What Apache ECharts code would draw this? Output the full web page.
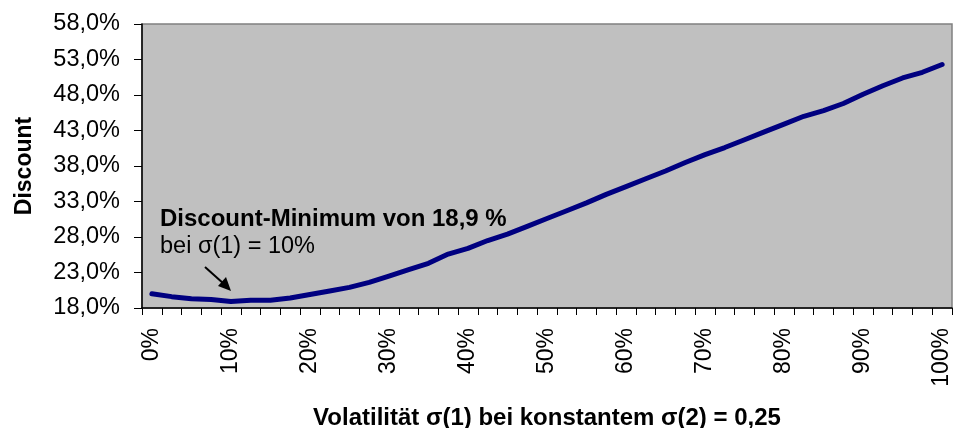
<!DOCTYPE html>
<html>
<head>
<meta charset="utf-8">
<script src="https://cdn.jsdelivr.net/npm/echarts@6/dist/echarts.min.js"></script>
<style>
  html, body { margin: 0; padding: 0; background: #fff; }
  #chart { width: 954px; height: 428px; }
</style>
</head>
<body>
<div id="chart"></div>
<script>
// volatility sigma(1) in 2.5% steps
let categories = [
    "0%", "2,5%", "5%", "7,5%", "10%", "12,5%", "15%", "17,5%", "20%", "22,5%",
    "25%", "27,5%", "30%", "32,5%", "35%", "37,5%", "40%", "42,5%", "45%", "47,5%",
    "50%", "52,5%", "55%", "57,5%", "60%", "62,5%", "65%", "67,5%", "70%", "72,5%",
    "75%", "77,5%", "80%", "82,5%", "85%", "87,5%", "90%", "92,5%", "95%", "97,5%", "100%"
];
// discount in %
let discount = [
    20.0, 19.6, 19.3, 19.2, 18.9, 19.1, 19.1, 19.4, 19.9, 20.4,
    20.9, 21.6, 22.5, 23.4, 24.3, 25.6, 26.4, 27.5, 28.4, 29.5,
    30.6, 31.7, 32.8, 34.0, 35.1, 36.2, 37.3, 38.5, 39.6, 40.6,
    41.7, 42.8, 43.9, 45.0, 45.8, 46.8, 48.1, 49.3, 50.4, 51.2, 52.3
];
let yTicks = { min: 18, max: 58, step: 5 };

let font = "'Liberation Sans', Arial, sans-serif";

function pct(value) {
    return value.toFixed(1).replace(".", ",") + "%";
}

let chart = echarts.init(document.getElementById("chart"), null, { renderer: "canvas" });
let option = {
    animation: false,
    backgroundColor: "#ffffff",
    grid: {
        left: 142,
        top: 24,
        right: 2,
        bottom: 120,
        outerBoundsMode: "none",
        containLabel: false,
        show: true,
        backgroundColor: "#c0c0c0",
        borderColor: "#808080",
        borderWidth: 1.5
    },
    xAxis: {
        type: "category",
        data: categories,
        boundaryGap: true,
        name: "Volatilität σ(1) bei konstantem σ(2) = 0,25",
        nameLocation: "middle",
        nameGap: 98,
        nameTextStyle: {
            fontFamily: font,
            fontSize: 24,
            fontWeight: "bold",
            color: "#000",
            verticalAlign: "top"
        },
        axisLine: { lineStyle: { color: "#000", width: 1.5 } },
        axisTick: { show: true, interval: 0, length: 7, lineStyle: { color: "#000" } },
        axisLabel: {
            interval: 3,
            rotate: 90,
            margin: 20,
            fontFamily: font,
            fontSize: 23,
            color: "#000"
        },
        splitLine: { show: false }
    },
    yAxis: {
        type: "value",
        min: yTicks.min,
        max: yTicks.max,
        interval: yTicks.step,
        name: "Discount",
        nameLocation: "middle",
        nameRotate: 90,
        nameGap: 106,
        nameTextStyle: {
            fontFamily: font,
            fontSize: 23,
            fontWeight: "bold",
            color: "#000"
        },
        axisLine: { show: true, lineStyle: { color: "#000", width: 1.5 } },
        axisTick: { show: true, length: 8, lineStyle: { color: "#000" } },
        axisLabel: {
            margin: 22,
            fontFamily: font,
            fontSize: 23.5,
            color: "#000",
            formatter: pct
        },
        splitLine: { show: false }
    },
    series: [
        {
            name: "Discount",
            type: "line",
            data: discount,
            symbol: "none",
            smooth: false,
            lineStyle: { color: "#000080", width: 5, cap: "round", join: "round" }
        }
    ],
    graphic: [
        {
            type: "text",
            left: 160,
            top: 207,
            style: {
                text: "Discount-Minimum von 18,9 %",
                font: "bold 24px " + font,
                fill: "#000"
            }
        },
        {
            type: "text",
            left: 160,
            top: 235,
            style: {
                text: "bei σ(1) = 10%",
                font: "23.5px " + font,
                fill: "#000"
            }
        },
        {
            type: "line",
            shape: { x1: 205, y1: 267, x2: 224, y2: 284 },
            style: { stroke: "#000", lineWidth: 2 }
        },
        {
            type: "polygon",
            shape: { points: [[231, 291], [218, 286], [226, 277]] },
            style: { fill: "#000" }
        }
    ]
};
chart.setOption(option);
</script>
</body>
</html>
